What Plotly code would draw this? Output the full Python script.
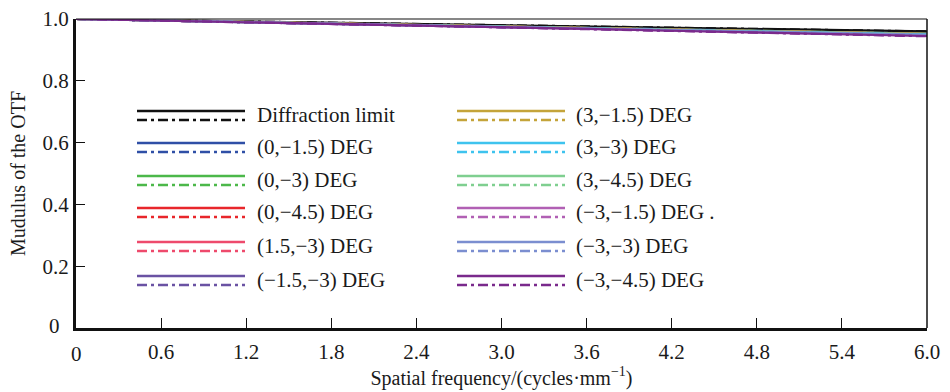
import plotly.graph_objects as go

freq = [0.0, 0.6, 1.2, 1.8, 2.4, 3.0, 3.6, 4.2, 4.8, 5.4, 6.0]

labels = ["Diffraction limit", "(0,\u22121.5) DEG", "(0,\u22123) DEG", "(0,\u22124.5) DEG",
          "(1.5,\u22123) DEG", "(\u22121.5,\u22123) DEG", "(3,\u22121.5) DEG", "(3,\u22123) DEG",
          "(3,\u22124.5) DEG", "(\u22123,\u22121.5) DEG .", "(\u22123,\u22123) DEG", "(\u22123,\u22124.5) DEG"]
colors = ["#111111", "#2f4fa6", "#4cb84a", "#e8262b", "#ee4a6c", "#6a52a3",
          "#c4a43a", "#3ec3ee", "#7fcf90", "#b160b4", "#7b8ed0", "#7a2a8c"]

# tangential (solid) and sagittal (dash-dot) MTF values
mtf_t = [
    [1.000, 0.996, 0.992, 0.988, 0.984, 0.980, 0.976, 0.972, 0.968, 0.964, 0.960],
    [1.000, 0.995, 0.991, 0.986, 0.982, 0.977, 0.972, 0.967, 0.962, 0.957, 0.953],
    [1.000, 0.995, 0.990, 0.986, 0.981, 0.976, 0.971, 0.966, 0.961, 0.956, 0.952],
    [1.000, 0.995, 0.990, 0.985, 0.980, 0.975, 0.970, 0.965, 0.960, 0.955, 0.950],
    [1.000, 0.995, 0.990, 0.985, 0.980, 0.975, 0.970, 0.965, 0.960, 0.955, 0.951],
    [1.000, 0.995, 0.990, 0.985, 0.980, 0.975, 0.970, 0.964, 0.959, 0.954, 0.949],
    [1.000, 0.995, 0.991, 0.986, 0.981, 0.976, 0.971, 0.966, 0.961, 0.956, 0.952],
    [1.000, 0.995, 0.990, 0.985, 0.980, 0.975, 0.970, 0.965, 0.960, 0.955, 0.950],
    [1.000, 0.995, 0.990, 0.985, 0.979, 0.974, 0.969, 0.964, 0.959, 0.953, 0.948],
    [1.000, 0.995, 0.990, 0.984, 0.979, 0.974, 0.968, 0.963, 0.957, 0.952, 0.946],
    [1.000, 0.995, 0.990, 0.985, 0.980, 0.975, 0.969, 0.964, 0.959, 0.954, 0.949],
    [1.000, 0.995, 0.989, 0.984, 0.979, 0.973, 0.968, 0.962, 0.957, 0.951, 0.945],
]
mtf_s = [
    [1.000, 0.996, 0.992, 0.988, 0.984, 0.980, 0.976, 0.972, 0.968, 0.964, 0.960],
    [1.000, 0.995, 0.991, 0.986, 0.981, 0.977, 0.972, 0.967, 0.962, 0.957, 0.952],
    [1.000, 0.995, 0.990, 0.985, 0.981, 0.976, 0.971, 0.966, 0.961, 0.956, 0.951],
    [1.000, 0.995, 0.990, 0.985, 0.980, 0.975, 0.969, 0.964, 0.959, 0.954, 0.949],
    [1.000, 0.995, 0.990, 0.985, 0.980, 0.975, 0.970, 0.965, 0.959, 0.954, 0.950],
    [1.000, 0.995, 0.990, 0.985, 0.979, 0.974, 0.969, 0.964, 0.958, 0.953, 0.948],
    [1.000, 0.995, 0.990, 0.986, 0.981, 0.976, 0.971, 0.966, 0.961, 0.956, 0.951],
    [1.000, 0.995, 0.990, 0.985, 0.980, 0.975, 0.969, 0.964, 0.959, 0.954, 0.949],
    [1.000, 0.995, 0.990, 0.984, 0.979, 0.974, 0.968, 0.963, 0.958, 0.952, 0.947],
    [1.000, 0.995, 0.989, 0.984, 0.978, 0.973, 0.968, 0.962, 0.957, 0.951, 0.945],
    [1.000, 0.995, 0.990, 0.984, 0.979, 0.974, 0.969, 0.963, 0.958, 0.953, 0.948],
    [1.000, 0.995, 0.989, 0.984, 0.978, 0.973, 0.967, 0.962, 0.956, 0.950, 0.944],
]

x_ticks = [0.6, 1.2, 1.8, 2.4, 3.0, 3.6, 4.2, 4.8, 5.4, 6.0]
x_tick_text = ["0.6", "1.2", "1.8", "2.4", "3.0", "3.6", "4.2", "4.8", "5.4", "6.0"]
y_ticks = [0.2, 0.4, 0.6, 0.8, 1.0]
y_tick_text = ["0.2", "0.4", "0.6", "0.8", "1.0"]

FONT = "Times New Roman, Liberation Serif, serif"
W, H = 950, 392
ML, MR, MT, MB = 76, 23, 19, 64
PW, PH = W - ML - MR, H - MT - MB
DASHDOT = "10px,4px,3px,4px"
TXT = "#1a1a1a"

fig = go.Figure()
for i in range(len(labels)):
    fig.add_trace(go.Scatter(x=freq, y=mtf_t[i], mode="lines", name=labels[i] + " T",
                             line=dict(color=colors[i], width=2.2), showlegend=False))
    fig.add_trace(go.Scatter(x=freq, y=mtf_s[i], mode="lines", name=labels[i] + " S",
                             line=dict(color=colors[i], width=2.2, dash=DASHDOT), showlegend=False))

def px(xp):
    return (xp - ML) / PW

def py(yp):
    return (MT + PH - yp) / PH

shapes = []
annotations = []
col_x = [(137, 245, 255), (457, 565, 574)]
row_y = [111, 143, 176, 208, 242, 276]
for i, lab in enumerate(labels):
    c = i // 6
    r = i % 6
    x0, x1, xt = col_x[c]
    ys = row_y[r]
    shapes.append(dict(type="line", xref="paper", yref="paper", x0=px(x0), x1=px(x1),
                       y0=py(ys), y1=py(ys), line=dict(color=colors[i], width=2.5)))
    shapes.append(dict(type="line", xref="paper", yref="paper", x0=px(x0), x1=px(x1),
                       y0=py(ys + 9), y1=py(ys + 9), line=dict(color=colors[i], width=2.5, dash=DASHDOT)))
    annotations.append(dict(text=lab, xref="paper", yref="paper", x=px(xt), y=py(ys + 4),
                            xanchor="left", yanchor="middle", showarrow=False,
                            font=dict(family=FONT, size=21, color=TXT)))

# thin top and right frame lines
shapes.append(dict(type="line", xref="paper", yref="paper", x0=0, x1=1, y0=1, y1=1,
                   line=dict(color="#111111", width=1.2)))
shapes.append(dict(type="line", xref="paper", yref="paper", x0=1, x1=1, y0=0, y1=1,
                   line=dict(color="#111111", width=1.5)))

annotations.append(dict(text="0", xref="paper", yref="paper", x=px(62), y=py(326),
                        xanchor="right", yanchor="middle", showarrow=False,
                        font=dict(family=FONT, size=21, color=TXT)))
annotations.append(dict(text="0", xref="paper", yref="paper", x=0, y=py(354),
                        xanchor="center", yanchor="middle", showarrow=False,
                        font=dict(family=FONT, size=21, color=TXT)))

fig.update_layout(
    width=W, height=H,
    margin=dict(l=ML, r=MR, t=MT, b=MB, autoexpand=False),
    paper_bgcolor="white", plot_bgcolor="white",
    shapes=shapes, annotations=annotations,
    font=dict(family=FONT, size=21, color=TXT),
    xaxis=dict(range=[0, 6.0], tickvals=x_ticks, ticktext=x_tick_text, automargin=False,
               ticks="inside", ticklen=10, tickwidth=1.2, tickcolor="#111111",
               showline=True, linewidth=3, linecolor="#111111", showgrid=False, zeroline=False,
               ticklabelstandoff=3,
               title=dict(text="Spatial frequency/(cycles\u00b7mm<sup>\u22121</sup>)",
                          font=dict(family=FONT, size=20, color=TXT), standoff=2),
               tickfont=dict(family=FONT, size=21, color=TXT)),
    yaxis=dict(range=[0, 1.0], tickvals=y_ticks, ticktext=y_tick_text, automargin=False,
               ticks="inside", ticklen=9, tickwidth=1.2, tickcolor="#111111",
               showline=True, linewidth=3, linecolor="#111111", showgrid=False, zeroline=False,
               title=dict(text="Mudulus of the OTF", font=dict(family=FONT, size=20, color=TXT), standoff=12),
               tickfont=dict(family=FONT, size=21, color=TXT)),
)

fig.write_html("out.html")
